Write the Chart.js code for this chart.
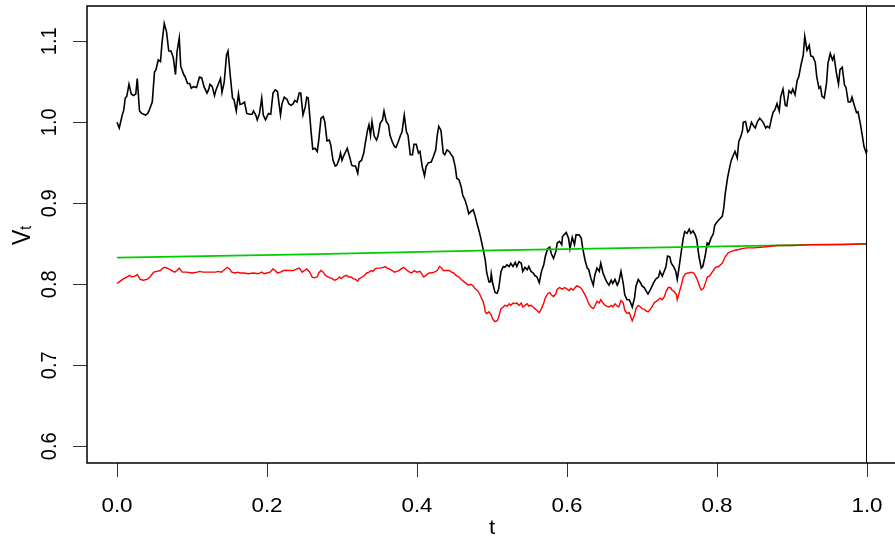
<!DOCTYPE html>
<html>
<head>
<meta charset="utf-8">
<script src="https://cdn.jsdelivr.net/npm/chart.js@4"></script>
<style>
    html, body { margin: 0; padding: 0; background: #fff; overflow: hidden; }
    #wrap { position: relative; width: 900px; height: 538px; }
</style>
</head>
<body>
<div id="wrap"><canvas id="pathChart"></canvas></div>
<script>
// Axis ticks
const xTicks = [0, 0.2, 0.4, 0.6, 0.8, 1.0];
const yTicks = [0.6, 0.7, 0.8, 0.9, 1.0, 1.1];
const vLineT = 1.0;

// Black path (V_t)
const blackT = [
    0, 0.003, 0.007, 0.009, 0.011, 0.013, 0.016, 0.019, 0.022, 0.025,
    0.027, 0.030, 0.033, 0.038, 0.041, 0.043, 0.047, 0.050, 0.052, 0.055,
    0.058, 0.060, 0.063, 0.066, 0.069, 0.072, 0.075, 0.078, 0.080, 0.083,
    0.085, 0.089, 0.091, 0.094, 0.097, 0.099, 0.102, 0.106, 0.107, 0.110,
    0.113, 0.116, 0.120, 0.122, 0.124, 0.127, 0.130, 0.132, 0.138, 0.140,
    0.143, 0.146, 0.148, 0.151, 0.154, 0.156, 0.159, 0.162, 0.164, 0.167,
    0.170, 0.173, 0.177, 0.180, 0.182, 0.185, 0.187, 0.190, 0.193, 0.195,
    0.198, 0.201, 0.202, 0.205, 0.208, 0.211, 0.214, 0.218, 0.220, 0.223,
    0.227, 0.229, 0.232, 0.235, 0.237, 0.240, 0.243, 0.245, 0.248, 0.251,
    0.253, 0.255, 0.259, 0.261, 0.264, 0.267, 0.269, 0.272, 0.275, 0.277,
    0.280, 0.283, 0.285, 0.288, 0.291, 0.293, 0.296, 0.298, 0.300, 0.302,
    0.305, 0.307, 0.310, 0.313, 0.315, 0.318, 0.321, 0.323, 0.326, 0.329,
    0.331, 0.334, 0.336, 0.338, 0.340, 0.343, 0.346, 0.348, 0.351, 0.354,
    0.356, 0.359, 0.362, 0.364, 0.367, 0.370, 0.372, 0.375, 0.378, 0.380,
    0.383, 0.386, 0.388, 0.391, 0.394, 0.396, 0.399, 0.402, 0.404, 0.407,
    0.410, 0.412, 0.415, 0.419, 0.422, 0.425, 0.427, 0.429, 0.432, 0.435,
    0.437, 0.440, 0.443, 0.445, 0.448, 0.451, 0.453, 0.456, 0.459, 0.461,
    0.464, 0.467, 0.469, 0.472, 0.475, 0.477, 0.480, 0.483, 0.485, 0.488,
    0.491, 0.493, 0.496, 0.498, 0.499, 0.501, 0.504, 0.507, 0.509, 0.512,
    0.515, 0.517, 0.520, 0.523, 0.525, 0.528, 0.531, 0.533, 0.536, 0.539,
    0.541, 0.544, 0.547, 0.549, 0.552, 0.555, 0.557, 0.560, 0.563, 0.566,
    0.569, 0.571, 0.574, 0.577, 0.579, 0.582, 0.585, 0.587, 0.590, 0.593,
    0.594, 0.596, 0.599, 0.602, 0.604, 0.607, 0.610, 0.612, 0.616, 0.619,
    0.621, 0.624, 0.627, 0.629, 0.632, 0.635, 0.637, 0.640, 0.643, 0.645,
    0.648, 0.651, 0.653, 0.656, 0.659, 0.661, 0.664, 0.667, 0.669, 0.672,
    0.675, 0.677, 0.680, 0.683, 0.685, 0.687, 0.690, 0.692, 0.695, 0.698,
    0.700, 0.703, 0.706, 0.708, 0.711, 0.714, 0.716, 0.719, 0.722, 0.724,
    0.727, 0.730, 0.732, 0.734, 0.737, 0.739, 0.742, 0.745, 0.747, 0.749,
    0.752, 0.755, 0.757, 0.760, 0.763, 0.765, 0.768, 0.771, 0.773, 0.776,
    0.779, 0.781, 0.784, 0.787, 0.789, 0.792, 0.795, 0.797, 0.800, 0.803,
    0.807, 0.809, 0.811, 0.814, 0.817, 0.819, 0.822, 0.824, 0.827, 0.829,
    0.832, 0.834, 0.835, 0.838, 0.841, 0.843, 0.846, 0.849, 0.851, 0.854,
    0.857, 0.859, 0.862, 0.865, 0.867, 0.870, 0.873, 0.875, 0.877, 0.880,
    0.883, 0.885, 0.888, 0.891, 0.893, 0.896, 0.899, 0.901, 0.904, 0.907,
    0.909, 0.912, 0.915, 0.917, 0.920, 0.923, 0.925, 0.928, 0.931, 0.933,
    0.936, 0.938, 0.940, 0.943, 0.946, 0.948, 0.951, 0.954, 0.956, 0.959,
    0.962, 0.964, 0.967, 0.970, 0.972, 0.975, 0.978, 0.980, 0.983, 0.986,
    0.988, 0.991, 0.994, 0.996, 0.999, 1.000
];
const blackV = [
    1.000, 0.993, 1.009, 1.015, 1.030, 1.032, 1.047, 1.035, 1.033, 1.035,
    1.054, 1.014, 1.011, 1.009, 1.011, 1.015, 1.025, 1.062, 1.065, 1.077,
    1.075, 1.098, 1.122, 1.112, 1.088, 1.088, 1.080, 1.059, 1.087, 1.104,
    1.069, 1.059, 1.056, 1.048, 1.048, 1.042, 1.044, 1.043, 1.046, 1.056,
    1.055, 1.044, 1.036, 1.040, 1.047, 1.044, 1.033, 1.040, 1.054, 1.037,
    1.050, 1.083, 1.088, 1.058, 1.030, 1.028, 1.014, 1.035, 1.022, 1.023,
    1.025, 1.011, 1.010, 1.010, 1.014, 1.009, 1.003, 1.011, 1.030, 1.009,
    1.003, 1.009, 1.011, 1.010, 1.036, 1.040, 1.038, 1.009, 1.023, 1.031,
    1.028, 1.023, 1.021, 1.023, 1.027, 1.025, 1.036, 1.036, 1.009, 1.019,
    1.031, 1.030, 0.986, 0.967, 0.968, 0.964, 0.978, 1.005, 1.007, 1.001,
    0.977, 0.978, 0.972, 0.953, 0.946, 0.947, 0.954, 0.962, 0.953, 0.958,
    0.964, 0.968, 0.958, 0.947, 0.946, 0.946, 0.937, 0.951, 0.953, 0.962,
    0.974, 0.990, 0.997, 0.984, 1.001, 0.983, 0.978, 0.983, 0.999, 1.003,
    1.014, 1.001, 0.997, 0.984, 0.976, 0.970, 0.969, 0.976, 0.984, 0.988,
    1.009, 0.988, 0.984, 0.960, 0.960, 0.973, 0.973, 0.962, 0.964, 0.945,
    0.934, 0.945, 0.950, 0.951, 0.958, 0.966, 0.984, 0.995, 0.990, 0.962,
    0.960, 0.966, 0.964, 0.961, 0.957, 0.945, 0.931, 0.929, 0.920, 0.910,
    0.904, 0.895, 0.887, 0.890, 0.892, 0.886, 0.875, 0.865, 0.857, 0.844,
    0.830, 0.814, 0.803, 0.803, 0.813, 0.801, 0.790, 0.789, 0.795, 0.816,
    0.822, 0.821, 0.824, 0.822, 0.826, 0.822, 0.827, 0.822, 0.828, 0.826,
    0.816, 0.821, 0.818, 0.822, 0.816, 0.814, 0.811, 0.809, 0.802, 0.816,
    0.824, 0.834, 0.844, 0.846, 0.838, 0.832, 0.840, 0.851, 0.853, 0.849,
    0.859, 0.861, 0.864, 0.857, 0.844, 0.858, 0.849, 0.861, 0.861, 0.857,
    0.844, 0.830, 0.820, 0.818, 0.807, 0.799, 0.811, 0.820, 0.816, 0.826,
    0.814, 0.807, 0.803, 0.799, 0.805, 0.801, 0.806, 0.799, 0.803, 0.816,
    0.801, 0.787, 0.781, 0.781, 0.777, 0.772, 0.783, 0.798, 0.806, 0.802,
    0.798, 0.796, 0.791, 0.788, 0.793, 0.799, 0.803, 0.807, 0.809, 0.816,
    0.810, 0.817, 0.822, 0.835, 0.834, 0.826, 0.822, 0.816, 0.806, 0.818,
    0.838, 0.857, 0.865, 0.863, 0.868, 0.863, 0.866, 0.861, 0.855, 0.834,
    0.820, 0.822, 0.834, 0.851, 0.849, 0.857, 0.862, 0.873, 0.877, 0.880,
    0.884, 0.894, 0.912, 0.931, 0.945, 0.953, 0.960, 0.964, 0.956, 0.976,
    0.983, 0.990, 1.000, 1.001, 0.988, 0.990, 1.000, 0.995, 0.993, 1.001,
    1.005, 1.003, 0.999, 0.993, 0.995, 0.993, 1.006, 1.013, 1.015, 1.023,
    1.014, 1.032, 1.041, 1.021, 1.020, 1.039, 1.036, 1.041, 1.034, 1.052,
    1.056, 1.071, 1.083, 1.106, 1.089, 1.095, 1.082, 1.081, 1.074, 1.056,
    1.042, 1.044, 1.032, 1.030, 1.048, 1.073, 1.085, 1.077, 1.082, 1.062,
    1.047, 1.065, 1.068, 1.046, 1.043, 1.025, 1.025, 1.031, 1.021, 1.012,
    1.013, 0.999, 0.982, 0.970, 0.962, 0.966
];

// Red path
const redT = [
    0, 0.003, 0.009, 0.013, 0.017, 0.020, 0.024, 0.027, 0.031, 0.035,
    0.040, 0.044, 0.049, 0.053, 0.058, 0.061, 0.064, 0.069, 0.073, 0.077,
    0.080, 0.083, 0.087, 0.093, 0.100, 0.107, 0.110, 0.115, 0.120, 0.123,
    0.127, 0.131, 0.135, 0.139, 0.142, 0.147, 0.150, 0.153, 0.158, 0.161,
    0.164, 0.169, 0.175, 0.182, 0.188, 0.193, 0.196, 0.200, 0.204,
    0.208, 0.211, 0.214, 0.218, 0.222, 0.227, 0.231, 0.235, 0.240, 0.243,
    0.247, 0.250, 0.253, 0.257, 0.260, 0.263, 0.267, 0.269, 0.272, 0.275,
    0.278, 0.282, 0.287, 0.290, 0.293, 0.297, 0.299, 0.303, 0.306, 0.309,
    0.312, 0.315, 0.318, 0.321, 0.323, 0.327, 0.330, 0.333, 0.336, 0.339,
    0.341, 0.344, 0.347, 0.351, 0.355, 0.358, 0.360, 0.363, 0.367, 0.370,
    0.373, 0.376, 0.379, 0.382, 0.385, 0.387, 0.390, 0.393, 0.396, 0.400,
    0.404,
    0.409, 0.412, 0.416, 0.419, 0.423, 0.427, 0.430, 0.433, 0.435, 0.439,
    0.443, 0.446, 0.449, 0.452, 0.456, 0.459, 0.463, 0.467, 0.469, 0.472,
    0.475, 0.477, 0.480, 0.483, 0.485, 0.488, 0.490, 0.491, 0.493, 0.496,
    0.499, 0.501, 0.504, 0.507, 0.509, 0.512, 0.515, 0.517, 0.520, 0.523,
    0.525, 0.528, 0.531, 0.533, 0.536, 0.539, 0.541, 0.544, 0.547, 0.549,
    0.552, 0.555, 0.557, 0.560, 0.563, 0.566, 0.569, 0.571, 0.574, 0.577,
    0.579, 0.582, 0.585, 0.587, 0.590,
    0.594, 0.597, 0.600, 0.603, 0.605, 0.608, 0.611, 0.613, 0.616, 0.619,
    0.621, 0.624, 0.627, 0.629, 0.632, 0.635, 0.637, 0.640, 0.643, 0.645,
    0.648, 0.651, 0.653, 0.656, 0.659, 0.661, 0.664, 0.667, 0.669, 0.672,
    0.675, 0.677, 0.680, 0.683, 0.685, 0.687, 0.690, 0.692, 0.695, 0.698,
    0.700, 0.703, 0.706, 0.708, 0.711, 0.714, 0.716, 0.719, 0.722, 0.724,
    0.727, 0.730, 0.732, 0.735, 0.738, 0.740, 0.743, 0.746, 0.747, 0.750,
    0.753, 0.755, 0.758, 0.761, 0.763, 0.766, 0.769, 0.771, 0.774, 0.777,
    0.779, 0.782, 0.785, 0.787, 0.790,
    0.795, 0.798, 0.802, 0.807, 0.811, 0.815, 0.820, 0.824, 0.829, 0.833,
    0.840, 0.849, 0.862, 0.880, 0.902, 0.924, 0.947, 0.969, 1.000
];
const redV = [
    0.801, 0.803, 0.807, 0.809, 0.811, 0.809, 0.810, 0.812, 0.806, 0.805,
    0.806, 0.809, 0.815, 0.816, 0.817, 0.820, 0.821, 0.819, 0.817, 0.815,
    0.817, 0.820, 0.815, 0.815, 0.814, 0.815, 0.816, 0.815, 0.815, 0.815,
    0.815, 0.815, 0.816, 0.815, 0.817, 0.821, 0.819, 0.815, 0.814, 0.815,
    0.814, 0.814, 0.813, 0.814, 0.813, 0.815, 0.813, 0.814, 0.815,
    0.819, 0.817, 0.814, 0.815, 0.817, 0.817, 0.817, 0.817, 0.819, 0.820,
    0.815, 0.817, 0.819, 0.815, 0.809, 0.808, 0.809, 0.814, 0.817, 0.815,
    0.811, 0.809, 0.807, 0.805, 0.806, 0.809, 0.807, 0.810, 0.811, 0.809,
    0.809, 0.807, 0.806, 0.804, 0.807, 0.809, 0.811, 0.814, 0.815, 0.817,
    0.816, 0.819, 0.820, 0.820, 0.821, 0.822, 0.820, 0.819, 0.817, 0.815,
    0.816, 0.817, 0.819, 0.821, 0.819, 0.817, 0.815, 0.814, 0.817, 0.815,
    0.816,
    0.809, 0.811, 0.814, 0.814, 0.815, 0.817, 0.822, 0.820, 0.817, 0.817,
    0.817, 0.815, 0.814, 0.811, 0.809, 0.806, 0.803, 0.800, 0.799, 0.800,
    0.798, 0.795, 0.793, 0.789, 0.785, 0.779, 0.772, 0.766, 0.764, 0.766,
    0.762, 0.757, 0.754, 0.755, 0.760, 0.770, 0.772, 0.774, 0.773, 0.776,
    0.774, 0.777, 0.776, 0.777, 0.774, 0.777, 0.772, 0.774, 0.776, 0.773,
    0.774, 0.772, 0.770, 0.768, 0.765, 0.770, 0.777, 0.783, 0.788, 0.790,
    0.787, 0.785, 0.788, 0.794, 0.796,
    0.794, 0.796, 0.794, 0.792, 0.795, 0.793, 0.796, 0.798, 0.797, 0.795,
    0.792, 0.787, 0.781, 0.776, 0.772, 0.770, 0.773, 0.779, 0.777, 0.781,
    0.777, 0.774, 0.773, 0.772, 0.774, 0.772, 0.776, 0.773, 0.772, 0.780,
    0.777, 0.768, 0.764, 0.765, 0.760, 0.755, 0.762, 0.770, 0.774, 0.772,
    0.770, 0.769, 0.767, 0.766, 0.769, 0.773, 0.777, 0.779, 0.781, 0.783,
    0.781, 0.785, 0.791, 0.796, 0.796, 0.793, 0.791, 0.787, 0.781, 0.791,
    0.801, 0.809, 0.813, 0.814, 0.814, 0.815, 0.814, 0.811, 0.805, 0.797,
    0.793, 0.795, 0.803, 0.809, 0.810,
    0.817, 0.821, 0.822, 0.826, 0.834, 0.839, 0.841, 0.842, 0.843, 0.844,
    0.845, 0.845, 0.846, 0.848, 0.848, 0.849, 0.849, 0.849, 0.850
];

// Green curve
const greenT = [0, 0.25, 0.5, 0.75, 1.0];
const greenV = [0.833, 0.837, 0.842, 0.846, 0.850];

function toPoints(ts, vs) {
    return ts.map((t, i) => ({ x: t, y: vs[i] }));
}

// R-like frame, rotated y labels and titles
const rFrame = {
    id: 'rFrame',
    afterDatasetsDraw(chart) {
        const { ctx, chartArea: a, scales: { x } } = chart;
        ctx.save();
        ctx.strokeStyle = '#000';
        ctx.lineWidth = 1;
        const vx = Math.round(x.getPixelForValue(vLineT)) - 0.5;
        ctx.beginPath();
        ctx.moveTo(vx, a.top);
        ctx.lineTo(vx, a.bottom);
        ctx.stroke();
        ctx.lineWidth = 1.5;
        ctx.strokeRect(a.left, a.top, a.right - a.left, a.bottom - a.top);
        ctx.restore();
    },
    afterDraw(chart) {
        const { ctx, chartArea: a, scales: { x, y } } = chart;
        ctx.save();
        ctx.fillStyle = '#000';
        ctx.font = '20px "Liberation Sans", Arial, sans-serif';
        ctx.textAlign = 'center';
        ctx.textBaseline = 'alphabetic';

        xTicks.forEach(v => {
            ctx.save();
            ctx.translate(x.getPixelForValue(v), a.bottom + 48.5);
            ctx.scale(1.12, 1);
            ctx.fillText(v.toFixed(1), 0, 0);
            ctx.restore();
        });

        yTicks.forEach(v => {
            ctx.save();
            ctx.translate(a.left - 31.5, y.getPixelForValue(v));
            ctx.rotate(-Math.PI / 2);
            ctx.scale(1, 1.12);
            ctx.fillText(v.toFixed(1), 0, 0);
            ctx.restore();
        });

        // x title
        ctx.save();
        ctx.translate((a.left + a.right) / 2, a.bottom + 71);
        ctx.scale(1.12, 1);
        ctx.fillText('t', 0, 0);
        ctx.restore();

        // y title V_t
        ctx.save();
        ctx.translate(a.left - 57, (a.top + a.bottom) / 2 + 10.5);
        ctx.rotate(-Math.PI / 2);
        ctx.scale(1, 1.12);
        ctx.textAlign = 'left';
        ctx.font = '23px "Liberation Sans", Arial, sans-serif';
        ctx.fillText('V', 0, 0);
        const w = ctx.measureText('V').width;
        ctx.font = '14px "Liberation Sans", Arial, sans-serif';
        ctx.fillText('t', w, 1);
        ctx.restore();

        ctx.restore();
    }
};

function initChart() {
    const ctx = document.getElementById('pathChart').getContext('2d');
    new Chart(ctx, {
        type: 'line',
        data: {
            datasets: [{
                data: toPoints(redT, redV),
                borderColor: '#ff0000',
                borderWidth: 1.4
            }, {
                data: toPoints(greenT, greenV),
                borderColor: '#00cd00',
                borderWidth: 1.8
            }, {
                data: toPoints(blackT, blackV),
                borderColor: '#000000',
                borderWidth: 1.6
            }]
        },
        options: {
            responsive: true,
            maintainAspectRatio: false,
            animation: false,
            events: [],
            layout: { padding: { top: 6, right: 3, left: 0, bottom: 0 } },
            elements: {
                point: { radius: 0 },
                line: { tension: 0, fill: false }
            },
            plugins: {
                legend: { display: false },
                tooltip: { enabled: false }
            },
            scales: {
                x: {
                    type: 'linear',
                    min: -0.04,
                    max: 1.04,
                    border: { display: false },
                    grid: { drawOnChartArea: false, drawTicks: true, tickLength: 14, color: '#333', lineWidth: 1 },
                    ticks: { display: false },
                    afterBuildTicks: s => { s.ticks = xTicks.map(value => ({ value })); },
                    afterFit: s => { s.height = 75; }
                },
                y: {
                    type: 'linear',
                    min: 0.5794,
                    max: 1.1436,
                    border: { display: false },
                    grid: { drawOnChartArea: false, drawTicks: true, tickLength: 14, color: '#333', lineWidth: 1 },
                    ticks: { display: false },
                    afterBuildTicks: s => { s.ticks = yTicks.map(value => ({ value })); },
                    afterFit: s => { s.width = 87; }
                }
            }
        },
        plugins: [rFrame]
    });
}

window.addEventListener('load', initChart);
</script>
</body>
</html>
